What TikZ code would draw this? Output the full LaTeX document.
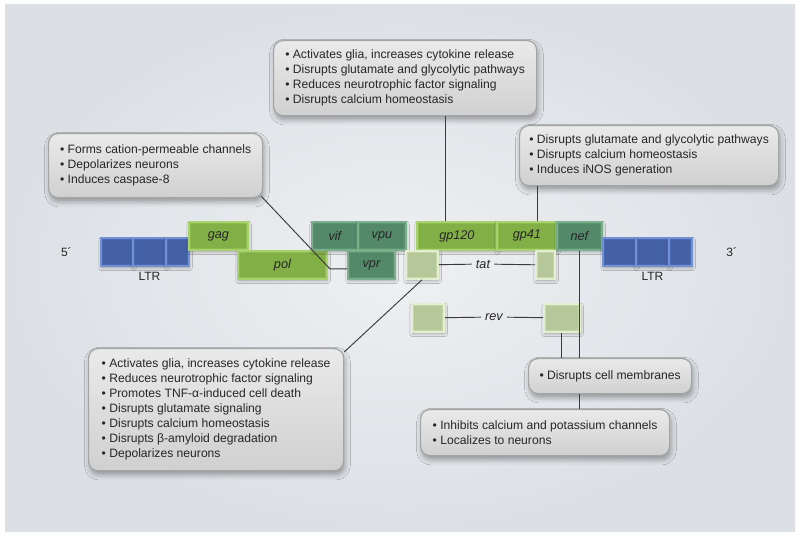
\documentclass[tikz,border=0pt]{standalone}
\usepackage{fontspec}
\setmainfont{Liberation Sans}
\usetikzlibrary{positioning, shadows.blur}
\definecolor{panelin}{HTML}{EEF0F2}
\definecolor{panelout}{HTML}{DCE0E5}
\definecolor{ltrblue}{HTML}{4A69B3}
\definecolor{ltredge}{HTML}{7290D2}
\definecolor{lightgrn}{HTML}{8CBD4C}
\definecolor{lightedge}{HTML}{A9D16F}
\definecolor{darkgrn}{HTML}{5A9370}
\definecolor{darkedge}{HTML}{7BAE8B}
\definecolor{palegrn}{HTML}{C4D7A6}
\definecolor{paleedge}{HTML}{E3EFD0}
\definecolor{boxtop}{HTML}{EAEAEA}
\definecolor{boxbot}{HTML}{D0D0D0}
\definecolor{boxedge}{HTML}{A4A4A4}
\definecolor{linegray}{HTML}{3A3A3A}

\begin{document}
\begin{tikzpicture}[x=0.75pt, y=-0.75pt,
            wd/.style={minimum width=#1*0.75pt},
            ht/.style={minimum height=#1*0.75pt},
            gene/.style={anchor=north west, inner sep=0pt, minimum height=21pt, line width=1.4pt,
                         font=\fontsize{9.5}{11}\selectfont\itshape, text=black!85,
                         path picture={\fill[black, opacity=0.07]
                             ([shift={(1.5pt,1.5pt)}]path picture bounding box.south west) rectangle
                             ([shift={(-1.5pt,-1.5pt)}]path picture bounding box.north east);},
                         blur shadow={shadow xshift=0.5pt, shadow yshift=-1.5pt, shadow blur radius=2pt, shadow opacity=30}},
            ltr/.style={gene, fill=ltrblue, draw=ltredge},
            gagpol/.style={gene, fill=lightgrn, draw=lightedge},
            accgene/.style={gene, fill=darkgrn, draw=darkedge},
            exon/.style={gene, fill=palegrn, draw=paleedge},
            infobox/.style={anchor=north west, align=left, rounded corners=7pt,
                            top color=boxtop, bottom color=boxbot, draw=boxedge, line width=0.9pt,
                            inner xsep=6pt, inner ysep=4pt, font=\fontsize{9.1}{11.25}\selectfont, text=black!85,
                            blur shadow={shadow xshift=1pt, shadow yshift=-3pt, shadow blur radius=4pt, shadow opacity=35}},
            lbl/.style={inner sep=3pt, font=\fontsize{9}{11}\selectfont, text=black!85},
            genelbl/.style={lbl, font=\fontsize{9.5}{11}\selectfont\itshape},
            conn/.style={draw=linegray, line width=0.7pt}
            ]
        \useasboundingbox (0,0) rectangle (800,537);
        \shade[inner color=panelin, outer color=panelout] (5,4) rectangle (795,531);

        % genome
        \node[ltr, wd=32] (ltrL1) at (100,237) {};
        \node[ltr, wd=33] (ltrL2) at (132,237) {};
        \node[ltr, wd=23] (ltrL3) at (165,237) {};
        \node[gagpol, wd=59] (gag) at (188,221) {gag};
        \node[gagpol, wd=89] (pol) at (237,250) {pol};
        \node[accgene, wd=46] (vif) at (311,221) {vif};
        \node[accgene, wd=48] (vpu) at (357,221) {vpu};
        \node[accgene, wd=47] (vpr) at (347,250) {vpr};
        \node[gagpol, wd=80] (gp120) at (416,221) {gp120};
        \node[gagpol, wd=60] (gp41) at (496,221) {gp41};
        \node[accgene, wd=45] (nef) at (556,221) {nef};
        \node[ltr, wd=33] (ltrR1) at (602,237) {};
        \node[ltr, wd=33] (ltrR2) at (635,237) {};
        \node[ltr, wd=23] (ltrR3) at (668,237) {};
        \node[exon, wd=32] (tat1) at (405,250) {};
        \node[exon, wd=19] (tat2) at (535,250) {};
        \node[exon, wd=32] (rev1) at (411,303) {};
        \node[exon, wd=36] (rev2) at (543,303) {};

        \node[lbl, below=1pt of ltrL2] (ltrlblL) {LTR};
        \node[lbl, below=1pt of ltrR2] (ltrlblR) {LTR};
        \node[lbl, left=18pt of ltrL1] (fiveprime) {5´};
        \node[lbl, right=22pt of ltrR3] (threeprime) {3´};
        \node[genelbl] (tatlbl) at (483,264) {tat};
        \node[genelbl] (revlbl) at (494,317) {rev};

        % effects
        \node[infobox, wd=263, ht=75] (topbox) at (273,40)
            {• Activates glia, increases cytokine release\\
             • Disrupts glutamate and glycolytic pathways\\
             • Reduces neurotrophic factor signaling\\
             • Disrupts calcium homeostasis};
        \node[infobox, wd=214, ht=64] (leftbox) at (48,133)
            {• Forms cation-permeable channels\\
             • Depolarizes neurons\\
             • Induces caspase-8};
        \node[infobox, wd=259, ht=60] (rightbox) at (519,125)
            {• Disrupts glutamate and glycolytic pathways\\
             • Disrupts calcium homeostasis\\
             • Induces iNOS generation};
        \node[infobox, wd=255, ht=122] (lowbox) at (88,348)
            {• Activates glia, increases cytokine release\\
             • Reduces neurotrophic factor signaling\\
             • Promotes TNF-α-induced cell death\\
             • Disrupts glutamate signaling\\
             • Disrupts calcium homeostasis\\
             • Disrupts β-amyloid degradation\\
             • Depolarizes neurons};
        \node[infobox, wd=163, ht=35] (membox) at (528,358)
            {• Disrupts cell membranes};
        \node[infobox, wd=249, ht=46] (chanbox) at (420,409)
            {• Inhibits calcium and potassium channels\\
             • Localizes to neurons};

        \draw[conn] (tat1) -- (tatlbl) -- (tat2);
        \draw[conn] (rev1) -- (revlbl) -- (rev2);
        \draw[conn] ([xshift=-8.25pt]gp120.north) -- ([xshift=-8.25pt]gp120.north |- topbox.south);
        \draw[conn] ([xshift=8.25pt]gp41.north) -- ([xshift=8.25pt]gp41.north |- rightbox.south);
        \draw[conn] ([shift={(-2,-2)}]leftbox.south east) -- ([xshift=-12.75pt,yshift=-3pt]vpr.west) -- ([yshift=-3pt]vpr.west);
        \draw[conn] (tat1.south) -- ([shift={(0,4)}]lowbox.north east);
        \draw[conn] (nef.south) -- (nef.south |- membox.north);
        \draw[conn] (rev2.south) -- (rev2.south |- membox.north);
        \draw[conn] (nef.south |- membox.south) -- (nef.south |- chanbox.north);
    \end{tikzpicture}
\end{document}
